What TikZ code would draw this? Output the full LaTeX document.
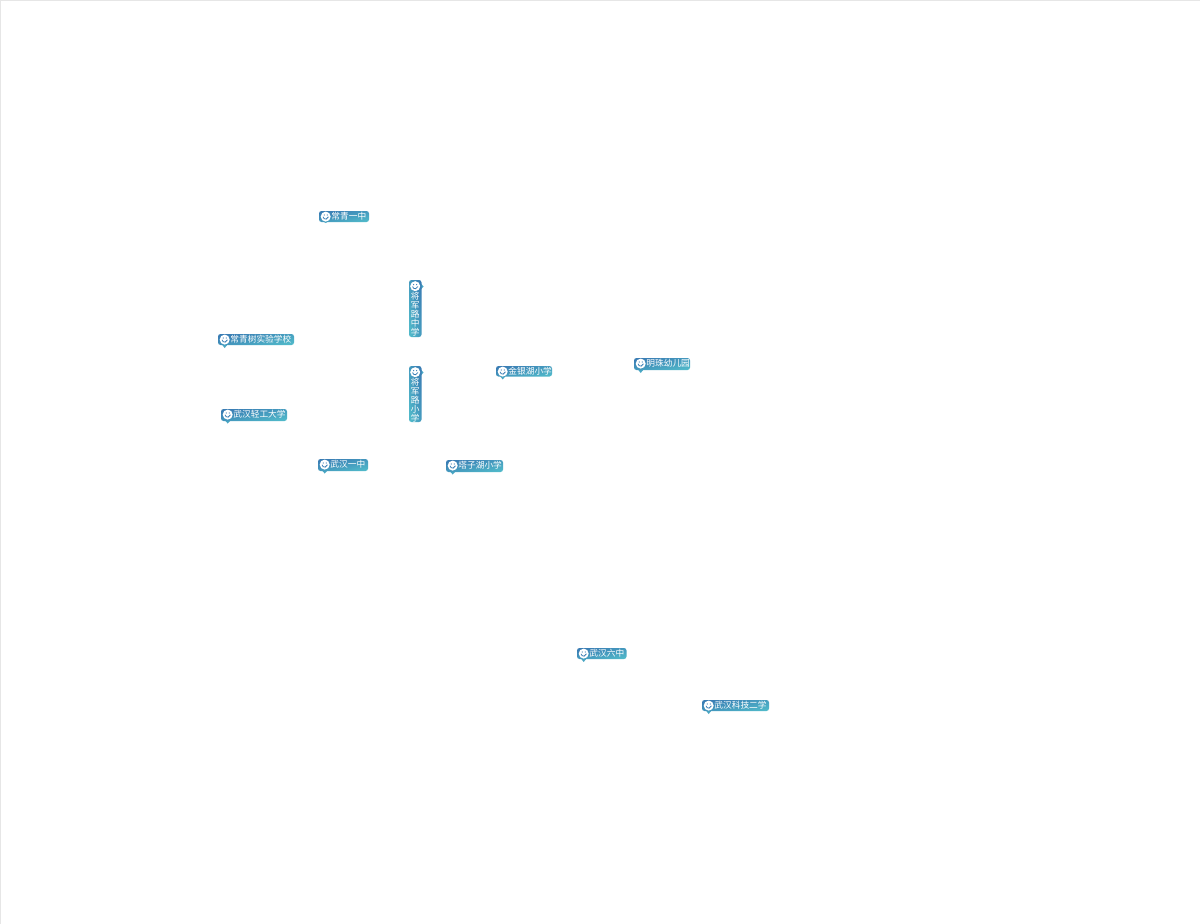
\documentclass[tikz,border=0pt]{standalone}
\usepackage{fontspec}
\newfontfamily\cjk{Noto Sans CJK SC}
\definecolor{mblue}{HTML}{3A7DB4}
\definecolor{mteal}{HTML}{50B8C9}
\definecolor{edge}{HTML}{E6E6E6}
\tikzset{
  x=1pt,y=-1pt,
  badge/.style={draw=none,rounded corners=2.5pt,top color=mblue,bottom color=mteal,shading angle=12},
  badgev/.style={draw=none,rounded corners=2.5pt,top color=mblue,bottom color=mteal,shading angle=-78},
  tip/.style={fill=mteal!70!mblue,draw=none},
  disc/.style={circle,fill=white,draw=none,inner sep=0pt,minimum size=10pt},
  hlabel/.style={text=white,inner sep=0pt,anchor=west,font=\cjk\fontsize{8.7}{8.7}\selectfont},
  vlabel/.style={text=white,inner sep=0pt,anchor=north,align=center,font=\cjk\fontsize{8.7}{9.1}\selectfont},
  glyph/.style={draw=mblue,line width=.8pt,line cap=round}
}
% name, x0, y0, x1, y1, label, tip length
\newcommand{\hmark}[7]{%
  \fill[tip] (#2+3.5,#5-1) -- (#2+10,#5-1) -- (#2+6.7,#5+#7) -- cycle;
  \shade[badge] (#2,#3) rectangle (#4,#5);
  \node[disc] (#1d) at (#2+6.7,#3+5.6) {};
  \draw[glyph] (#1d.center) ++(-2.6,.4) arc[start angle=170,end angle=10,radius=2.6];
  \fill[mblue] (#1d.center) ++(-1.5,-1.6) circle (.65) ++(3,0) circle (.65);
  \node[hlabel] (#1) at (#2+12.2,#3+5.6) {#6};}
\newcommand{\vmark}[6]{%
  \fill[tip] (#4-1,#3+3) -- (#4-1,#3+10) -- (#4+2,#3+6.5) -- cycle;
  \shade[badgev] (#2,#3) rectangle (#4,#5);
  \node[disc] (#1d) at (#2+6.2,#3+6.2) {};
  \draw[glyph] (#1d.center) ++(-2.6,.4) arc[start angle=170,end angle=10,radius=2.6];
  \fill[mblue] (#1d.center) ++(-1.5,-1.6) circle (.65) ++(3,0) circle (.65);
  \node[vlabel] (#1) at (#2+6.2,#3+11.5) {#6};}
\begin{document}
\begin{tikzpicture}
\useasboundingbox (0,0) rectangle (1200,924);
\fill[white] (0,0) rectangle (1200,924);
\fill[edge] (0,0) rectangle (1200,1);
\fill[edge] (0,0) rectangle (1,924);
\hmark{a}{319}{211}{369}{222}{常青一中}{1}
\hmark{b}{218}{334}{294}{345}{常青树实验学校}{3}
\vmark{c}{409}{280}{421.5}{337}{将\\军\\路\\中\\学}
\vmark{d}{409}{366}{421.5}{422}{将\\军\\路\\小\\学}
\hmark{e}{221}{409}{287}{421}{武汉轻工大学}{2.5}
\hmark{f}{318}{459}{368}{471}{武汉一中}{2.5}
\hmark{g}{446}{460}{503}{472}{塔子湖小学}{2.5}
\hmark{h}{496}{366}{552}{376.5}{金银湖小学}{3}
\hmark{i}{634}{358}{690}{370}{明珠幼儿园}{3}
\hmark{j}{577}{648}{626.5}{659}{武汉六中}{3}
\hmark{k}{702}{700}{769}{711}{武汉科技二学}{3}
\end{tikzpicture}
\end{document}
